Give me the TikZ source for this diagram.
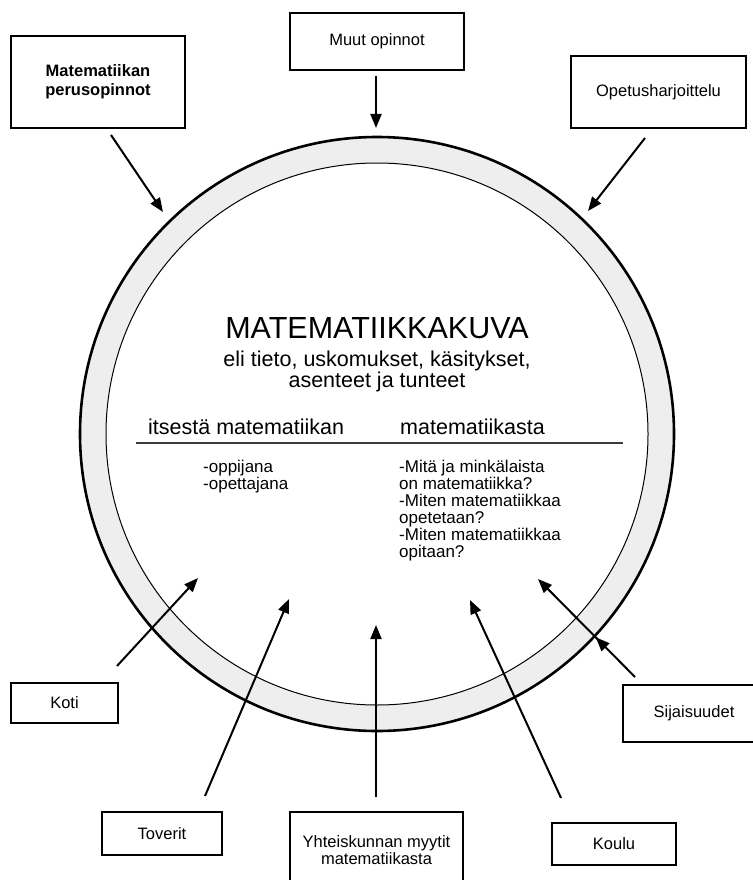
\documentclass[tikz,border=0pt]{standalone}
\usepackage{fontspec}
\setmainfont{Liberation Sans}
\usepackage{tikz}
\usetikzlibrary{arrows.meta, positioning, decorations.markings}
\definecolor{ringgray}{RGB}{238, 238, 238}
\definecolor{rulegray}{RGB}{60, 60, 60}

\begin{document}
\begin{tikzpicture}[
    x=1pt, y=-1pt,
    box/.style={draw, line width=1.3pt, inner sep=0pt, align=center, font=\fontsize{16.5}{18}\selectfont},
    arrow/.style={-{Triangle[length=14pt, width=11pt]}, line width=2pt},
    midtip/.style={decoration={markings, mark=at position #1 with {\arrow{Triangle[length=14pt, width=11pt]}}}, postaction=decorate},
    big/.style={font=\fontsize{30.5}{34}\selectfont, inner sep=0pt},
    sub/.style={font=\fontsize{21.5}{20.5}\selectfont, inner sep=0pt, align=center},
    head/.style={font=\fontsize{21.5}{24}\selectfont, inner sep=0pt, anchor=base west},
    items/.style={font=\fontsize{17}{17}\selectfont, inner sep=0pt, align=left, anchor=north west}
]
    \useasboundingbox (0,0) rectangle (752,880);

    % The ring
    \node[circle, draw, line width=2.6pt, fill=ringgray, inner sep=0pt, minimum size=594pt] (ring) at (377,434) {};
    \node[circle, draw, line width=1pt, fill=white, inner sep=0pt, minimum size=542pt] (inner) at (ring.center) {};

    % Text inside the ring
    \node[big, anchor=base] (title) at (377,338) {MATEMATIIKKAKUVA};
    \node[sub] (subtitle) at (377,371.5) {eli tieto, uskomukset, käsitykset,\\asenteet ja tunteet};
    \node[head] (self) at (148,434) {itsestä matematiikan};
    \node[head] (maths) at (400,434) {matematiikasta};
    \draw[rulegray, line width=1.4pt] (136,443) -- (623,443);
    \node[items] (selflist) at (203,459.8) {-oppijana\\-opettajana};
    \node[items] (mathslist) at (399,459.8) {-Mitä ja minkälaista\\on matematiikka?\\-Miten matematiikkaa\\opetetaan?\\-Miten matematiikkaa\\opitaan?};

    % Nodes - top row
    \node[box, minimum width=174pt, minimum height=92pt, font=\bfseries\fontsize{16.5}{19}\selectfont] (perus) at (98,82) {Matematiikan\\perusopinnot};
    \node[box, minimum width=174pt, minimum height=57pt] (muut) at (377,41.5) {Muut opinnot};
    \node[box, minimum width=175pt, minimum height=72pt] (opetus) at (658.5,92) {Opetusharjoittelu};

    % Nodes - bottom row
    \node[box, minimum width=107pt, minimum height=40pt] (koti) at (64.5,703) {Koti};
    \node[box, minimum width=142pt, minimum height=57pt] (sijais) at (694,713.5) {Sijaisuudet};
    \node[box, minimum width=120pt, minimum height=43pt] (toverit) at (162,833.5) {Toverit};
    \node[box, minimum width=173pt, minimum height=76pt, font=\fontsize{16.5}{16.5}\selectfont] (yhteis) at (376.5,850) {Yhteiskunnan myytit\\matematiikasta};
    \node[box, minimum width=124pt, minimum height=42pt] (koulu) at (614,844) {Koulu};

    % Arrow ends
    \coordinate (perus-s) at (111,135);   \coordinate (perus-e) at (163,212);
    \coordinate (muut-s) at (376,76);     \coordinate (muut-e) at (376,128);
    \coordinate (opetus-s) at (645,138);  \coordinate (opetus-e) at (588,211);
    \coordinate (koti-s) at (117,666);    \coordinate (koti-e) at (198,578);
    \coordinate (toverit-s) at (205,796); \coordinate (toverit-e) at (289,599);
    \coordinate (yhteis-s) at (376,797);  \coordinate (yhteis-e) at (376,625);
    \coordinate (koulu-s) at (561,798);   \coordinate (koulu-e) at (470,600);
    \coordinate (sijais-s) at (635,677);  \coordinate (sijais-e) at (538,579);

    % Arrows
    \draw[arrow] (perus-s) -- (perus-e);
    \draw[arrow] (muut-s) -- (muut-e);
    \draw[arrow] (opetus-s) -- (opetus-e);
    \draw[arrow] (koti-s) -- (koti-e);
    \draw[arrow] (toverit-s) -- (toverit-e);
    \draw[arrow] (yhteis-s) -- (yhteis-e);
    \draw[arrow] (koulu-s) -- (koulu-e);
    \draw[arrow, midtip=0.405] (sijais-s) -- (sijais-e);
\end{tikzpicture}
\end{document}
